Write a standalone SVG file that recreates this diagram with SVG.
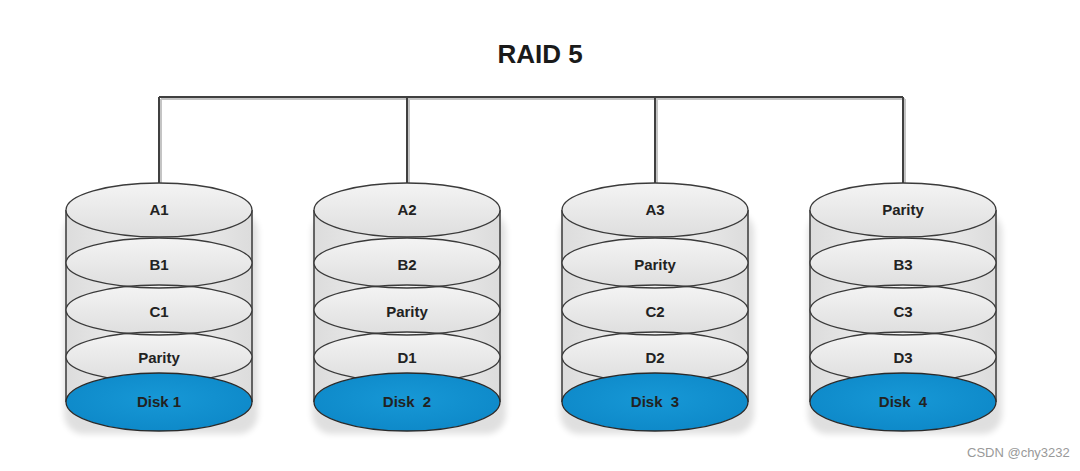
<svg xmlns="http://www.w3.org/2000/svg" width="1080" height="471" viewBox="0 0 1080 471">
<defs>
<linearGradient id="body" x1="0" y1="0" x2="1" y2="0">
<stop offset="0" stop-color="#dcdcdc"/>
<stop offset="0.5" stop-color="#f2f2f2"/>
<stop offset="1" stop-color="#dcdcdc"/>
</linearGradient>
<linearGradient id="plat" x1="0" y1="0" x2="0" y2="1">
<stop offset="0" stop-color="#f4f4f4"/>
<stop offset="1" stop-color="#dedede"/>
</linearGradient>
<radialGradient id="blue" cx="0.5" cy="0.45" r="0.6">
<stop offset="0" stop-color="#1798d6"/>
<stop offset="1" stop-color="#0d88c8"/>
</radialGradient>
<filter id="soft" x="-10%" y="-10%" width="120%" height="120%">
<feGaussianBlur stdDeviation="3"/>
</filter>
</defs>
<style>
.body{fill:url(#body);}
.side{stroke:#3a3a3a;stroke-width:1.5;fill:none;}
.pf{fill:url(#plat);}
.ps{fill:none;stroke:#3a3a3a;stroke-width:1.3;}
.disk{fill:url(#blue);stroke:#2a2a2a;stroke-width:1.3;}
.shadow{fill:#000;opacity:0.12;}
.lbl{font-family:"Liberation Sans",Arial,sans-serif;font-weight:bold;font-size:15px;fill:#222;text-anchor:middle;white-space:pre;}
.title{font-family:"Liberation Sans",Arial,sans-serif;font-weight:bold;font-size:26px;fill:#1a1a1a;text-anchor:middle;}
.wire{stroke:#404040;stroke-width:2;fill:none;}
.wire2{stroke:#c4c4c4;stroke-width:2;fill:none;}
.wm{font-family:"Liberation Sans",Arial,sans-serif;font-size:13px;fill:#999;}
</style>
<rect width="1080" height="471" fill="#fff"/>
<text class="title" x="540" y="63">RAID 5</text>
<g id="connectors">
<path class="wire2" d="M161 99H905M161 99V183M409 99V183M657 99V183M905 99V183"/>
<path class="wire" d="M159 97H903M159 97V183M407 97V183M655 97V183M903 97V183"/>
</g>
<g id="disk1">
<rect class="shadow" x="64" y="212" width="194" height="222" rx="20" filter="url(#soft)"/>
<rect class="body" x="66" y="210" width="186" height="192"/>
<path class="side" d="M66 210V402M252 210V402"/>
<ellipse class="pf" cx="159" cy="210" rx="93" ry="27"/>
<ellipse class="pf" cx="159" cy="263" rx="93" ry="25"/>
<ellipse class="pf" cx="159" cy="310" rx="93" ry="25"/>
<ellipse class="pf" cx="159" cy="357" rx="93" ry="25"/>
<ellipse class="ps" cx="159" cy="210" rx="93" ry="27"/>
<ellipse class="ps" cx="159" cy="263" rx="93" ry="25"/>
<ellipse class="ps" cx="159" cy="310" rx="93" ry="25"/>
<ellipse class="ps" cx="159" cy="357" rx="93" ry="25"/>
<ellipse class="disk" cx="159" cy="402" rx="93" ry="29"/>
<text class="lbl" x="159" y="215">A1</text>
<text class="lbl" x="159" y="270">B1</text>
<text class="lbl" x="159" y="317">C1</text>
<text class="lbl" x="159" y="363">Parity</text>
<text class="lbl" x="159" y="407">Disk 1</text>
</g>
<g id="disk2">
<rect class="shadow" x="312" y="212" width="194" height="222" rx="20" filter="url(#soft)"/>
<rect class="body" x="314" y="210" width="186" height="192"/>
<path class="side" d="M314 210V402M500 210V402"/>
<ellipse class="pf" cx="407" cy="210" rx="93" ry="27"/>
<ellipse class="pf" cx="407" cy="263" rx="93" ry="25"/>
<ellipse class="pf" cx="407" cy="310" rx="93" ry="25"/>
<ellipse class="pf" cx="407" cy="357" rx="93" ry="25"/>
<ellipse class="ps" cx="407" cy="210" rx="93" ry="27"/>
<ellipse class="ps" cx="407" cy="263" rx="93" ry="25"/>
<ellipse class="ps" cx="407" cy="310" rx="93" ry="25"/>
<ellipse class="ps" cx="407" cy="357" rx="93" ry="25"/>
<ellipse class="disk" cx="407" cy="402" rx="93" ry="29"/>
<text class="lbl" x="407" y="215">A2</text>
<text class="lbl" x="407" y="270">B2</text>
<text class="lbl" x="407" y="317">Parity</text>
<text class="lbl" x="407" y="363">D1</text>
<text class="lbl" x="407" y="407">Disk  2</text>
</g>
<g id="disk3">
<rect class="shadow" x="560" y="212" width="194" height="222" rx="20" filter="url(#soft)"/>
<rect class="body" x="562" y="210" width="186" height="192"/>
<path class="side" d="M562 210V402M748 210V402"/>
<ellipse class="pf" cx="655" cy="210" rx="93" ry="27"/>
<ellipse class="pf" cx="655" cy="263" rx="93" ry="25"/>
<ellipse class="pf" cx="655" cy="310" rx="93" ry="25"/>
<ellipse class="pf" cx="655" cy="357" rx="93" ry="25"/>
<ellipse class="ps" cx="655" cy="210" rx="93" ry="27"/>
<ellipse class="ps" cx="655" cy="263" rx="93" ry="25"/>
<ellipse class="ps" cx="655" cy="310" rx="93" ry="25"/>
<ellipse class="ps" cx="655" cy="357" rx="93" ry="25"/>
<ellipse class="disk" cx="655" cy="402" rx="93" ry="29"/>
<text class="lbl" x="655" y="215">A3</text>
<text class="lbl" x="655" y="270">Parity</text>
<text class="lbl" x="655" y="317">C2</text>
<text class="lbl" x="655" y="363">D2</text>
<text class="lbl" x="655" y="407">Disk  3</text>
</g>
<g id="disk4">
<rect class="shadow" x="808" y="212" width="194" height="222" rx="20" filter="url(#soft)"/>
<rect class="body" x="810" y="210" width="186" height="192"/>
<path class="side" d="M810 210V402M996 210V402"/>
<ellipse class="pf" cx="903" cy="210" rx="93" ry="27"/>
<ellipse class="pf" cx="903" cy="263" rx="93" ry="25"/>
<ellipse class="pf" cx="903" cy="310" rx="93" ry="25"/>
<ellipse class="pf" cx="903" cy="357" rx="93" ry="25"/>
<ellipse class="ps" cx="903" cy="210" rx="93" ry="27"/>
<ellipse class="ps" cx="903" cy="263" rx="93" ry="25"/>
<ellipse class="ps" cx="903" cy="310" rx="93" ry="25"/>
<ellipse class="ps" cx="903" cy="357" rx="93" ry="25"/>
<ellipse class="disk" cx="903" cy="402" rx="93" ry="29"/>
<text class="lbl" x="903" y="215">Parity</text>
<text class="lbl" x="903" y="270">B3</text>
<text class="lbl" x="903" y="317">C3</text>
<text class="lbl" x="903" y="363">D3</text>
<text class="lbl" x="903" y="407">Disk  4</text>
</g>
<text class="wm" x="967" y="457">CSDN @chy3232</text>
</svg>
